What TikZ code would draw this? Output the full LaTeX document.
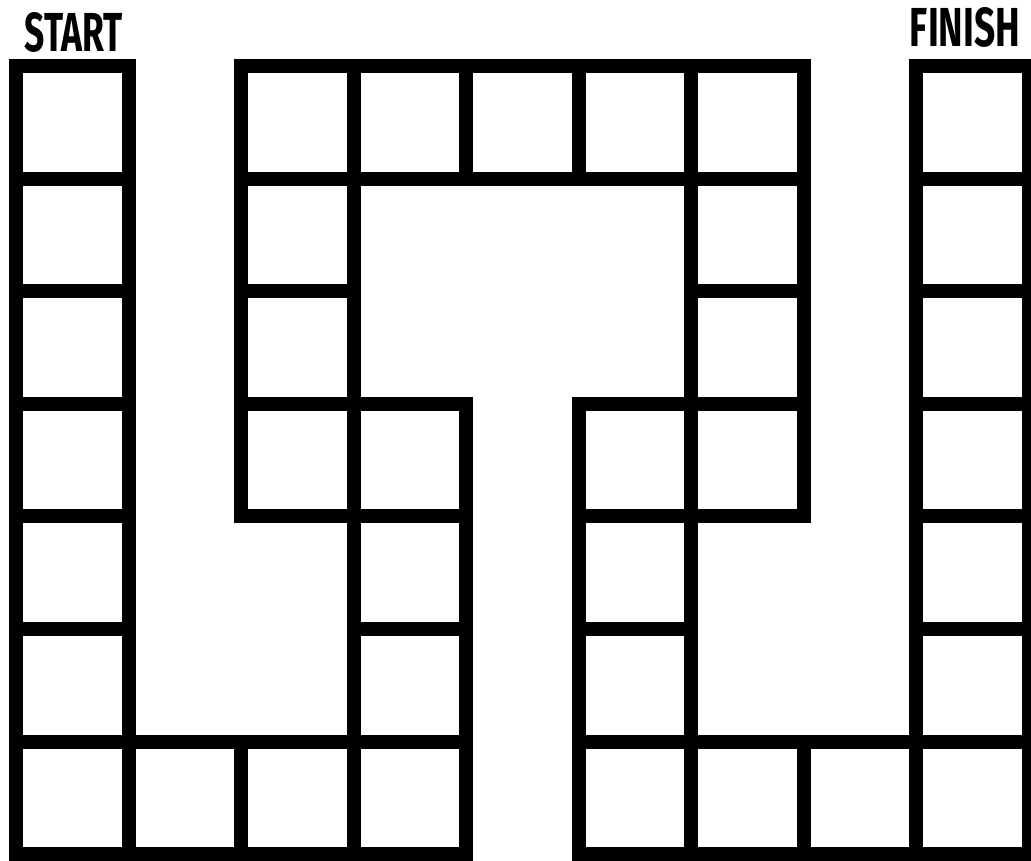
\documentclass[tikz,border=0pt]{standalone}
\usepackage{fontspec}
\setmainfont{Fira Sans}
\usepackage{graphicx}
\begin{document}
\begin{tikzpicture}[x=1pt,y=-1pt,
  cell/.style={draw=black,line width=14pt,line join=miter,fill=white,
    minimum width=112.5pt,minimum height=112.6pt,inner sep=0pt,outer sep=0pt,rectangle},
  label/.style={inner sep=0pt,outer sep=0pt}]
\useasboundingbox (0,0) rectangle (1031,861);
\def\cw{112.5}
\def\ch{112.6}
\foreach \c/\r in {0/0,0/1,0/2,0/3,0/4,0/5,0/6,
                   1/6,2/6,3/6,3/5,3/4,3/3,
                   2/3,2/2,2/1,2/0,
                   3/0,4/0,5/0,6/0,
                   6/1,6/2,6/3,5/3,
                   5/4,5/5,5/6,6/6,7/6,
                   8/6,8/5,8/4,8/3,8/2,8/1,8/0}{
  \node[cell] (c\c-\r) at ({16+\cw*(\c+0.5)},{66+\ch*(\r+0.5)}) {};
}
\node[label] (start) at (74,32.5) {\resizebox{98pt}{39pt}{\bfseries START}};
\node[label] (finish) at (965,27.5) {\resizebox{110pt}{39pt}{\bfseries FINISH}};
\end{tikzpicture}
\end{document}
